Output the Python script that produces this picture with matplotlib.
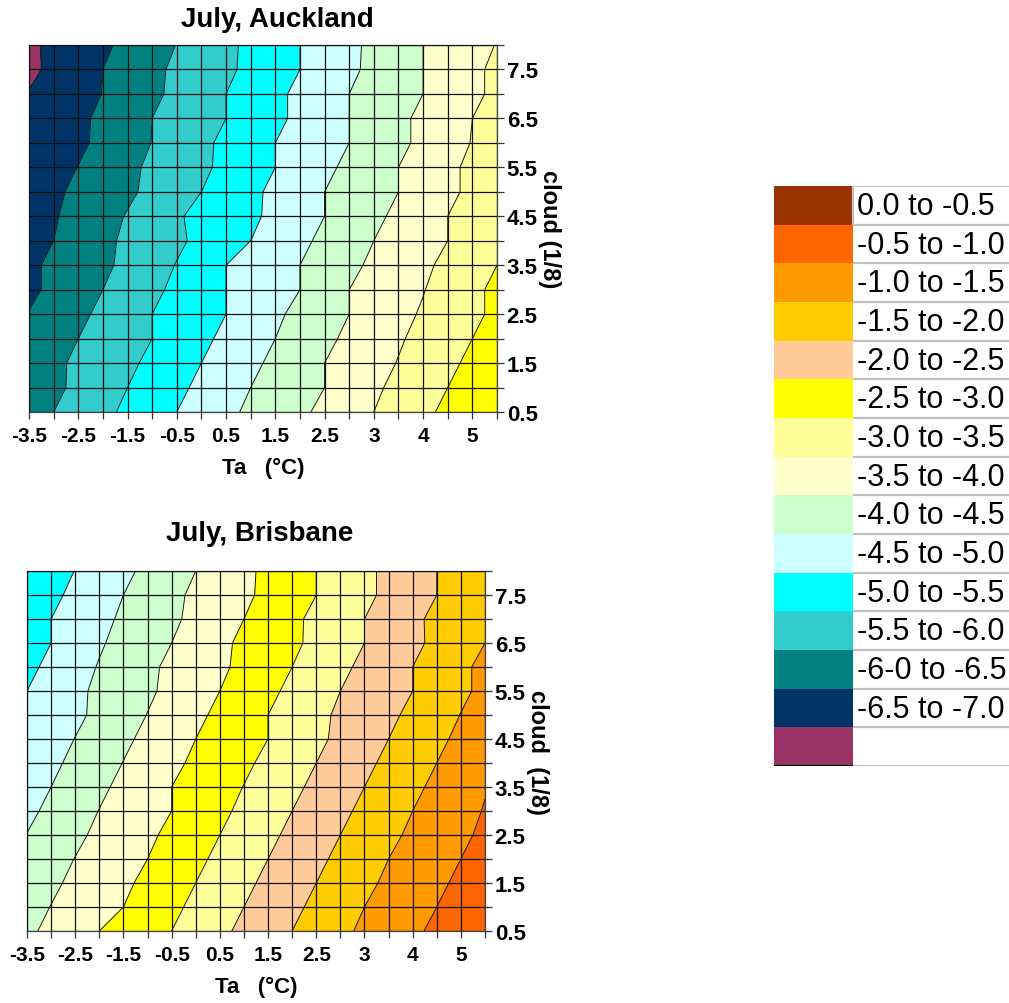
import numpy as np
import matplotlib
matplotlib.use('Agg')
import matplotlib.pyplot as plt

plt.rcParams['font.family'] = ['Liberation Sans', 'DejaVu Sans']
plt.rcParams['contour.negative_linestyle'] = 'solid'

# ---------------- data ----------------
ta_tick_labels = ['-3.5', '-2.5', '-1.5', '-0.5', '0.5', '1.5', '2.5', '3', '4', '5']
cloud_tick_labels = ['0.5', '1.5', '2.5', '3.5', '4.5', '5.5', '6.5', '7.5']

# rows: cloud 0.5 .. 8.0 (step 0.5); columns: 20 Ta categories
auckland = [
    [-6.20, -6.00, -5.80, -5.61, -5.41, -5.20, -5.00, -4.80, -4.60, -4.42, -4.25, -4.08, -3.90, -3.70, -3.50, -3.30, -3.10, -2.90, -2.70, -2.55],
    [-6.30, -6.10, -5.90, -5.70, -5.50, -5.30, -5.10, -4.90, -4.70, -4.50, -4.33, -4.17, -4.00, -3.79, -3.58, -3.38, -3.19, -3.00, -2.81, -2.62],
    [-6.26, -6.09, -5.92, -5.75, -5.59, -5.40, -5.20, -5.00, -4.80, -4.60, -4.40, -4.20, -4.00, -3.83, -3.66, -3.48, -3.29, -3.10, -2.90, -2.71],
    [-6.33, -6.17, -6.00, -5.83, -5.67, -5.50, -5.30, -5.10, -4.90, -4.70, -4.50, -4.30, -4.10, -3.91, -3.73, -3.55, -3.37, -3.19, -3.00, -2.81],
    [-6.48, -6.30, -6.10, -5.90, -5.70, -5.50, -5.33, -5.17, -5.00, -4.79, -4.58, -4.38, -4.19, -4.00, -3.81, -3.63, -3.45, -3.27, -3.09, -2.91],
    [-6.60, -6.40, -6.20, -6.00, -5.80, -5.60, -5.40, -5.20, -5.00, -4.83, -4.67, -4.50, -4.25, -4.00, -3.84, -3.68, -3.52, -3.31, -3.10, -2.90],
    [-6.58, -6.42, -6.25, -6.08, -5.90, -5.69, -5.48, -5.24, -5.00, -4.83, -4.67, -4.50, -4.30, -4.10, -3.92, -3.75, -3.58, -3.40, -3.20, -3.00],
    [-6.70, -6.50, -6.30, -6.10, -5.92, -5.75, -5.58, -5.39, -5.20, -5.00, -4.80, -4.60, -4.40, -4.20, -4.00, -3.83, -3.67, -3.50, -3.33, -3.17],
    [-6.73, -6.54, -6.35, -6.16, -5.97, -5.76, -5.55, -5.38, -5.23, -5.08, -4.90, -4.70, -4.50, -4.30, -4.10, -3.90, -3.70, -3.50, -3.30, -3.10],
    [-6.74, -6.58, -6.41, -6.24, -6.08, -5.89, -5.70, -5.50, -5.30, -5.10, -4.90, -4.70, -4.50, -4.33, -4.17, -4.00, -3.80, -3.60, -3.40, -3.20],
    [-6.88, -6.68, -6.49, -6.29, -6.10, -5.92, -5.75, -5.58, -5.40, -5.20, -5.00, -4.80, -4.60, -4.40, -4.20, -4.00, -3.80, -3.60, -3.40, -3.20],
    [-6.96, -6.79, -6.59, -6.39, -6.19, -5.99, -5.79, -5.60, -5.40, -5.20, -5.00, -4.83, -4.67, -4.50, -4.30, -4.10, -3.90, -3.69, -3.48, -3.27],
    [-6.97, -6.80, -6.60, -6.40, -6.20, -6.00, -5.83, -5.67, -5.50, -5.30, -5.10, -4.90, -4.70, -4.50, -4.30, -4.10, -3.90, -3.70, -3.50, -3.30],
    [-6.98, -6.83, -6.66, -6.49, -6.29, -6.09, -5.90, -5.70, -5.50, -5.30, -5.10, -4.90, -4.70, -4.50, -4.33, -4.17, -4.00, -3.80, -3.60, -3.40],
    [-7.10, -6.90, -6.70, -6.50, -6.30, -6.10, -5.92, -5.75, -5.58, -5.40, -5.20, -5.00, -4.80, -4.59, -4.39, -4.20, -4.00, -3.80, -3.60, -3.40],
    [-7.08, -6.91, -6.74, -6.58, -6.39, -6.19, -5.99, -5.79, -5.60, -5.40, -5.20, -5.00, -4.80, -4.60, -4.40, -4.20, -4.00, -3.83, -3.67, -3.48],
]

brisbane = [
    [-4.09, -3.89, -3.69, -3.50, -3.33, -3.17, -3.00, -2.80, -2.60, -2.40, -2.20, -2.00, -1.80, -1.60, -1.42, -1.25, -1.08, -0.91, -0.74, -0.57],
    [-4.16, -3.99, -3.83, -3.67, -3.50, -3.30, -3.10, -2.90, -2.70, -2.50, -2.30, -2.10, -1.90, -1.70, -1.50, -1.33, -1.17, -1.00, -0.83, -0.67],
    [-4.24, -4.08, -3.91, -3.75, -3.58, -3.40, -3.20, -3.00, -2.80, -2.60, -2.40, -2.20, -2.00, -1.80, -1.60, -1.42, -1.25, -1.08, -0.92, -0.75],
    [-4.32, -4.16, -3.99, -3.83, -3.66, -3.50, -3.30, -3.10, -2.90, -2.70, -2.50, -2.30, -2.10, -1.90, -1.70, -1.50, -1.33, -1.17, -1.00, -0.83],
    [-4.49, -4.30, -4.09, -3.91, -3.75, -3.58, -3.40, -3.20, -3.00, -2.80, -2.60, -2.40, -2.20, -2.00, -1.80, -1.60, -1.42, -1.25, -1.08, -0.92],
    [-4.60, -4.40, -4.19, -3.99, -3.83, -3.66, -3.50, -3.30, -3.10, -2.90, -2.70, -2.50, -2.30, -2.10, -1.90, -1.70, -1.50, -1.33, -1.17, -0.97],
    [-4.70, -4.50, -4.29, -4.09, -3.89, -3.70, -3.50, -3.33, -3.16, -2.99, -2.80, -2.60, -2.40, -2.20, -2.00, -1.80, -1.60, -1.40, -1.20, -1.03],
    [-4.80, -4.60, -4.39, -4.19, -3.99, -3.79, -3.60, -3.42, -3.25, -3.08, -2.90, -2.70, -2.50, -2.30, -2.10, -1.90, -1.70, -1.50, -1.30, -1.10],
    [-4.90, -4.70, -4.49, -4.29, -4.09, -3.89, -3.69, -3.50, -3.33, -3.17, -3.00, -2.80, -2.60, -2.40, -2.20, -2.00, -1.80, -1.60, -1.40, -1.20],
    [-4.96, -4.80, -4.60, -4.39, -4.19, -3.99, -3.79, -3.60, -3.40, -3.20, -3.00, -2.81, -2.61, -2.43, -2.26, -2.09, -1.90, -1.70, -1.49, -1.29],
    [-5.00, -4.80, -4.60, -4.41, -4.24, -4.07, -3.89, -3.69, -3.50, -3.30, -3.10, -2.90, -2.70, -2.50, -2.33, -2.16, -2.00, -1.80, -1.59, -1.39],
    [-5.11, -4.89, -4.68, -4.47, -4.28, -4.09, -3.91, -3.75, -3.58, -3.39, -3.20, -3.00, -2.80, -2.60, -2.40, -2.20, -2.00, -1.79, -1.59, -1.39],
    [-5.22, -5.00, -4.78, -4.55, -4.36, -4.18, -4.00, -3.80, -3.60, -3.41, -3.25, -3.08, -2.90, -2.70, -2.50, -2.30, -2.10, -1.90, -1.70, -1.50],
    [-5.19, -5.00, -4.81, -4.62, -4.43, -4.25, -4.08, -3.89, -3.70, -3.50, -3.30, -3.09, -2.90, -2.70, -2.50, -2.30, -2.10, -1.89, -1.74, -1.60],
    [-5.30, -5.10, -4.90, -4.70, -4.50, -4.30, -4.10, -3.92, -3.75, -3.58, -3.40, -3.20, -3.00, -2.80, -2.60, -2.40, -2.20, -2.00, -1.80, -1.60],
    [-5.39, -5.19, -4.99, -4.80, -4.60, -4.40, -4.20, -4.00, -3.80, -3.60, -3.40, -3.20, -3.00, -2.80, -2.60, -2.40, -2.20, -2.00, -1.80, -1.60],
]

# band edges (low -> high) and fill colours
levels = [-7.5, -7.0, -6.5, -6.0, -5.5, -5.0, -4.5, -4.0, -3.5, -3.0, -2.5, -2.0, -1.5, -1.0, -0.5, 0.0]
auckland_colors = ['#993366', '#003366', '#008080', '#33CCCC', '#00FFFF', '#CCFFFF', '#CCFFCC',
                   '#FFFFCC', '#FFFF99', '#FFFF00', '#FFCC99', '#FFCC00', '#FF9900', '#FF6600', '#993300']
brisbane_colors = ['#993366', '#003366', '#008080', '#33CCCC', '#00FFFF', '#CCFFFF', '#CCFFCC',
                   '#FFFFCC', '#FFFF00', '#FFFF99', '#FFCC99', '#FFCC00', '#FF9900', '#FF6600', '#993300']

legend_labels = ['0.0 to -0.5', '-0.5 to -1.0', '-1.0 to -1.5', '-1.5 to -2.0', '-2.0 to -2.5',
                 '-2.5 to -3.0', '-3.0 to -3.5', '-3.5 to -4.0', '-4.0 to -4.5', '-4.5 to -5.0',
                 '-5.0 to -5.5', '-5.5 to -6.0', '-6-0 to -6.5', '-6.5 to -7.0', '']
legend_colors = ['#993300', '#FF6600', '#FF9900', '#FFCC00', '#FFCC99', '#FFFF00', '#FFFF99',
                 '#FFFFCC', '#CCFFCC', '#CCFFFF', '#00FFFF', '#33CCCC', '#008080', '#003366', '#993366']

W, H = 1009, 1004
fig = plt.figure(figsize=(W / 100, H / 100), dpi=100)


def px_rect(left, top, right, bottom):
    return [left / W, 1 - bottom / H, (right - left) / W, (bottom - top) / H]


def panel(rect, data, colors, title, title_xy, ylab):
    ax = fig.add_axes(rect)
    Z = np.array(data)
    x = np.arange(Z.shape[1])
    y = np.arange(Z.shape[0])
    ax.contourf(x, y, Z, levels=levels, colors=colors, zorder=1)
    ax.contour(x, y, Z, levels=levels, colors='#1a1a1a', linewidths=0.7,
               linestyles='solid', zorder=2)
    ax.set_xlim(0, Z.shape[1] - 1)
    ax.set_ylim(0, Z.shape[0] - 1)
    ax.set_xticks(np.arange(0, Z.shape[1], 2))
    ax.set_xticklabels(ta_tick_labels, fontsize=15, fontweight='bold')
    ax.set_xticks(np.arange(Z.shape[1]), minor=True)
    ax.yaxis.tick_right()
    ax.yaxis.set_label_position('right')
    ax.set_yticks(np.arange(0, Z.shape[0], 2))
    ax.set_yticklabels(cloud_tick_labels, fontsize=16, fontweight='bold')
    ax.set_yticks(np.arange(Z.shape[0]), minor=True)
    ax.grid(which='both', color='#111111', linewidth=0.9)
    ax.set_axisbelow(False)
    ax.tick_params(which='both', length=5, width=0.9, direction='out',
                   bottom=True, top=False, left=False, right=True, color='#333333')
    ax.tick_params(axis='x', pad=5)
    ax.tick_params(axis='y', pad=2)
    for s in ax.spines.values():
        s.set_color('#444444')
        s.set_linewidth(0.9)
    ax.set_xlabel('Ta   (°C)', fontsize=16, fontweight='bold', labelpad=9)
    ax.set_ylabel(ylab, fontsize=17, fontweight='bold', rotation=-90, labelpad=17)
    fig.text(title_xy[0] / W, 1 - title_xy[1] / H, title, fontsize=20, fontweight='bold',
             ha='center', va='center')
    return ax


panel(px_rect(29, 46, 497, 413), auckland, auckland_colors, 'July, Auckland', (277, 20), 'cloud (1/8)')
panel(px_rect(27, 572, 485, 932), brisbane, brisbane_colors, 'July, Brisbane', (260, 534), 'cloud  (1/8)')

# legend table
lg = fig.add_axes(px_rect(774, 187, 1009, 767))
n = len(legend_labels)
lg.set_xlim(0, 235)
lg.set_ylim(n, 0)
lg.barh(np.arange(n) + 0.5, 79, left=0, height=1.0, color=legend_colors, align='center')
lg.hlines(np.arange(n + 1), 79, 235, color='#C0C0C0', linewidth=1.6)
lg.vlines(79, 0, 1, color='#C0C0C0', linewidth=1.6)
lg.hlines(n, 0, 79, color='black', linewidth=1.6)
for k, lab in enumerate(legend_labels):
    lg.text(83, k + 0.52, lab, fontsize=22, va='center', ha='left')
lg.axis('off')

fig.savefig('out.png', dpi=100)
